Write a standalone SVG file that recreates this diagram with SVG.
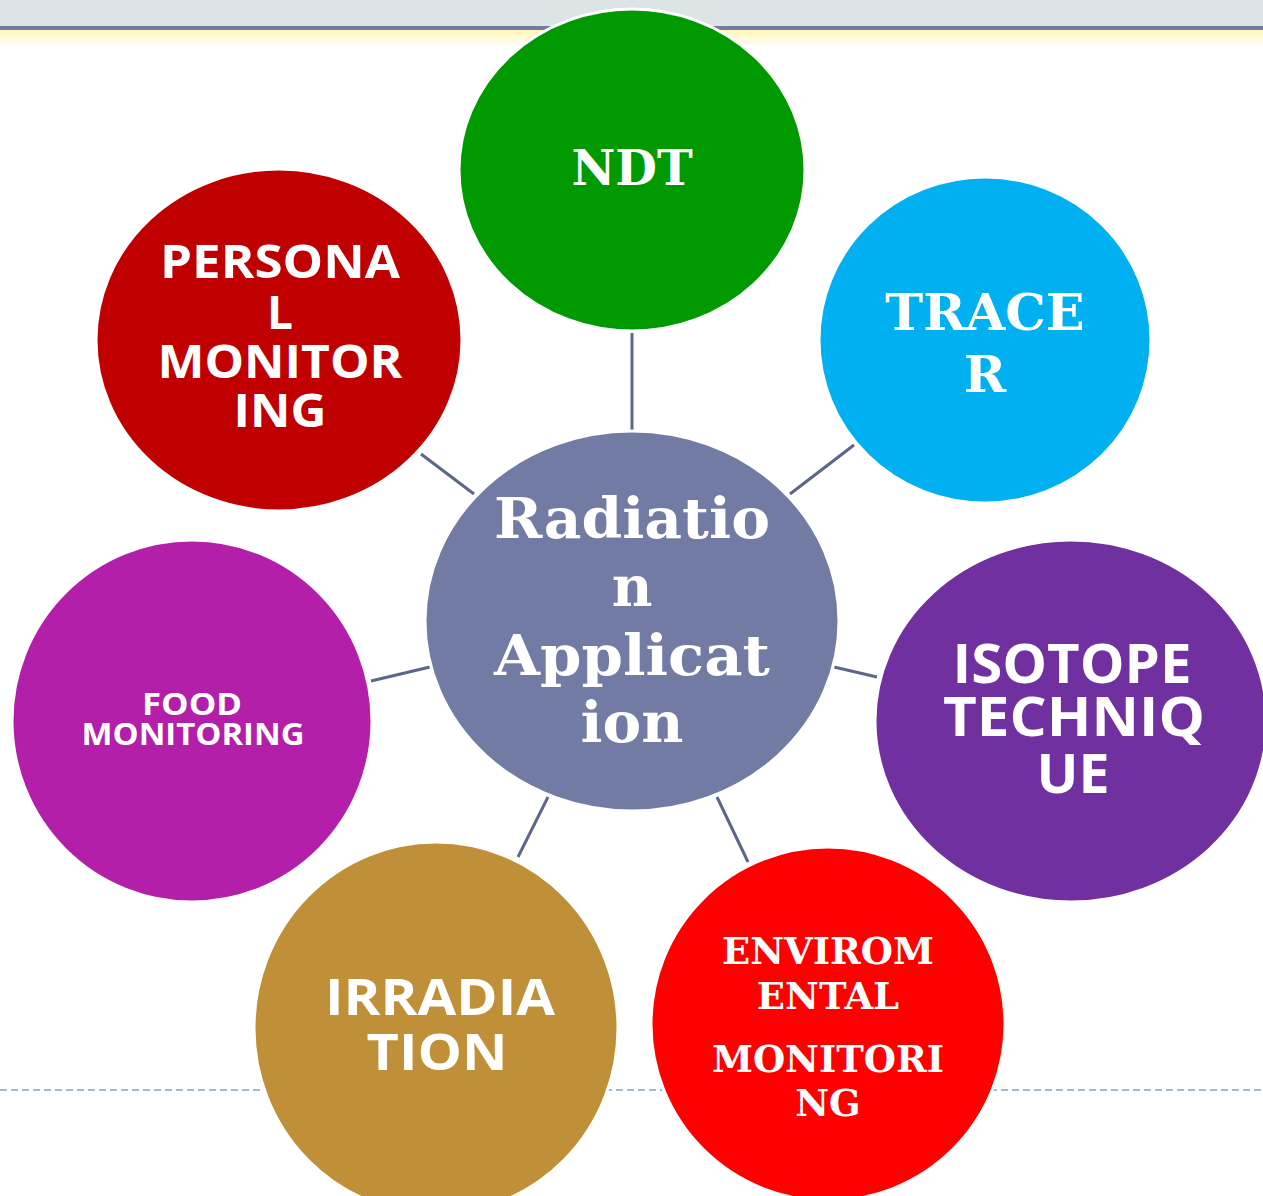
<svg xmlns="http://www.w3.org/2000/svg" width="1263" height="1196" viewBox="0 0 1263 1196">
<defs>
<linearGradient id="yel" x1="0" y1="0" x2="0" y2="1">
<stop offset="0" stop-color="#FFF6B4"/>
<stop offset="1" stop-color="#FFFFFF"/>
</linearGradient>
<style>
.node{stroke:#FFFFFF;stroke-width:3}
.serif{font-family:"DejaVu Serif","Liberation Serif",serif;font-weight:bold;fill:#FFFFFF;text-anchor:middle}
.sans{font-family:"Open Sans","Liberation Sans",sans-serif;font-weight:bold;fill:#FFFFFF;text-anchor:middle}
.conn{stroke:#5B6688;stroke-width:3;fill:none}
</style>
</defs>
<rect x="0" y="0" width="1263" height="1196" fill="#FFFFFF"/>
<rect x="0" y="0" width="1263" height="26" fill="#DCE4E5"/>
<rect x="0" y="26" width="1263" height="4" fill="#737B9F"/>
<rect x="0" y="30" width="1263" height="17" fill="url(#yel)"/>
<line x1="0" y1="1090" x2="1263" y2="1090" stroke="#A3B9CF" stroke-width="2" stroke-dasharray="7 4"/>
<g id="connectors">
<line class="conn" x1="632" y1="333" x2="632" y2="431"/>
<line class="conn" x1="790" y1="494" x2="854" y2="445"/>
<line class="conn" x1="834" y1="667" x2="877" y2="677"/>
<line class="conn" x1="717" y1="797" x2="748" y2="862"/>
<line class="conn" x1="548" y1="797" x2="518" y2="857"/>
<line class="conn" x1="430" y1="667" x2="371" y2="681"/>
<line class="conn" x1="474" y1="494" x2="421" y2="454"/>
</g>
<g id="ndt">
<ellipse class="node" cx="632" cy="170" rx="173" ry="161" fill="#009900"/>
<text class="serif" x="632" y="185" font-size="48">NDT</text>
</g>
<g id="tracer">
<ellipse class="node" cx="985" cy="340" rx="166" ry="163" fill="#00B0F0"/>
<text class="serif" x="985" y="330" font-size="51">TRACE</text>
<text class="serif" x="985" y="392" font-size="51">R</text>
</g>
<g id="isotope">
<ellipse class="node" cx="1071" cy="721" rx="196" ry="181" fill="#7030A0"/>
<text class="sans" x="1072" y="683" font-size="53" textLength="239" lengthAdjust="spacingAndGlyphs">ISOTOPE</text>
<text class="sans" x="1074" y="736" font-size="53" textLength="262" lengthAdjust="spacingAndGlyphs">TECHNIQ</text>
<text class="sans" x="1073" y="793" font-size="53" textLength="73" lengthAdjust="spacingAndGlyphs">UE</text>
</g>
<g id="environmental">
<ellipse class="node" cx="828" cy="1024" rx="177" ry="177" fill="#FF0000"/>
<text class="serif" x="828" y="964" font-size="37">ENVIROM</text>
<text class="serif" x="828" y="1009" font-size="37">ENTAL</text>
<text class="serif" x="828" y="1072" font-size="37">MONITORI</text>
<text class="serif" x="828" y="1116" font-size="37">NG</text>
</g>
<g id="irradiation">
<ellipse class="node" cx="436" cy="1028" rx="182" ry="186" fill="#BF9037"/>
<text class="sans" x="440" y="1015" font-size="50" textLength="230" lengthAdjust="spacingAndGlyphs">IRRADIA</text>
<text class="sans" x="437" y="1070" font-size="50" textLength="141" lengthAdjust="spacingAndGlyphs">TION</text>
</g>
<g id="food">
<ellipse class="node" cx="192" cy="721" rx="180" ry="181" fill="#B31FA9"/>
<text class="sans" x="192" y="715" font-size="30" textLength="100" lengthAdjust="spacingAndGlyphs">FOOD</text>
<text class="sans" x="193" y="745" font-size="30" textLength="223" lengthAdjust="spacingAndGlyphs">MONITORING</text>
</g>
<g id="personal">
<ellipse class="node" cx="279" cy="340" rx="183" ry="171" fill="#C00000"/>
<text class="sans" x="280" y="278" font-size="46" textLength="240" lengthAdjust="spacingAndGlyphs">PERSONA</text>
<text class="sans" x="280" y="329" font-size="46">L</text>
<text class="sans" x="280" y="378" font-size="46" textLength="245" lengthAdjust="spacingAndGlyphs">MONITOR</text>
<text class="sans" x="280" y="427" font-size="46" textLength="93" lengthAdjust="spacingAndGlyphs">ING</text>
</g>
<g id="center">
<ellipse class="node" cx="632" cy="621" rx="207" ry="190" fill="#717BA3"/>
<text class="serif" x="632" y="538" font-size="56" textLength="276" lengthAdjust="spacingAndGlyphs">Radiatio</text>
<text class="serif" x="632" y="606" font-size="56">n</text>
<text class="serif" x="632" y="675" font-size="56" textLength="276" lengthAdjust="spacingAndGlyphs">Applicat</text>
<text class="serif" x="632" y="742" font-size="56" textLength="103" lengthAdjust="spacingAndGlyphs">ion</text>
</g>
</svg>
